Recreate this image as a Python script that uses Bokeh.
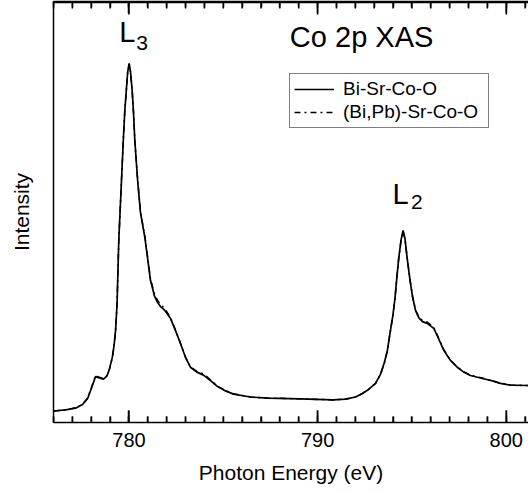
from bokeh.plotting import figure
from bokeh.models import (LinearAxis, SingleIntervalTicker, Range1d,
                          Legend, LegendItem, Label)
from bokeh.embed import file_html
from bokeh.resources import INLINE

# Co 2p X-ray absorption spectra (intensity normalised to the L3 maximum)
energy = [776.00, 776.64, 777.17, 777.54, 777.81, 778.02, 778.23, 778.39, 778.65, 778.84,
          778.97, 779.12, 779.21, 779.29, 779.37, 779.46, 779.58, 779.70, 779.78, 779.86,
          779.93, 780.01, 780.08, 780.17, 780.24, 780.31, 780.46, 780.61, 780.85, 781.14,
          781.36, 781.52, 781.67, 781.83, 781.99, 782.20, 782.47, 782.73, 783.00, 783.26,
          783.58, 783.95, 784.32, 784.70, 785.12, 785.54, 786.44, 787.35, 789.09, 790.84,
          791.48, 792.01, 792.38, 792.70, 793.07, 793.33, 793.54, 793.70, 793.86, 793.99,
          794.10, 794.21, 794.30, 794.42, 794.53, 794.63, 794.75, 794.90, 795.03, 795.19,
          795.36, 795.56, 795.81, 796.16, 796.41, 796.69, 797.04, 797.40, 797.73, 798.10,
          798.79, 799.27, 799.69, 800.22, 801.18]

bi_sr_co_o = [0.032, 0.035, 0.040, 0.050, 0.067, 0.097, 0.128, 0.125, 0.121, 0.130,
              0.150, 0.182, 0.214, 0.256, 0.331, 0.507, 0.646, 0.786, 0.869, 0.925,
              0.975, 1.000, 0.978, 0.925, 0.864, 0.786, 0.674, 0.585, 0.513, 0.396,
              0.351, 0.334, 0.323, 0.316, 0.306, 0.290, 0.256, 0.220, 0.181, 0.154,
              0.141, 0.132, 0.117, 0.100, 0.088, 0.079, 0.071, 0.068, 0.066, 0.063,
              0.065, 0.071, 0.081, 0.092, 0.109, 0.134, 0.167, 0.201, 0.256, 0.298,
              0.345, 0.409, 0.457, 0.507, 0.535, 0.513, 0.457, 0.396, 0.351, 0.312,
              0.292, 0.281, 0.276, 0.262, 0.234, 0.201, 0.173, 0.154, 0.141, 0.131,
              0.122, 0.116, 0.109, 0.104, 0.103]

bipb_sr_co_o = [0.032, 0.035, 0.041, 0.051, 0.068, 0.099, 0.131, 0.127, 0.122, 0.131,
                0.150, 0.181, 0.213, 0.255, 0.330, 0.505, 0.645, 0.785, 0.868, 0.924,
                0.974, 0.998, 0.977, 0.924, 0.864, 0.787, 0.676, 0.588, 0.517, 0.401,
                0.356, 0.340, 0.329, 0.321, 0.310, 0.292, 0.257, 0.221, 0.182, 0.155,
                0.143, 0.135, 0.119, 0.101, 0.089, 0.080, 0.071, 0.068, 0.066, 0.063,
                0.065, 0.071, 0.081, 0.092, 0.109, 0.133, 0.166, 0.200, 0.255, 0.297,
                0.344, 0.408, 0.456, 0.506, 0.533, 0.512, 0.457, 0.397, 0.353, 0.314,
                0.295, 0.284, 0.280, 0.265, 0.236, 0.203, 0.174, 0.155, 0.142, 0.132,
                0.123, 0.116, 0.109, 0.104, 0.103]

series_names = ["Bi-Sr-Co-O", "(Bi,Pb)-Sr-Co-O"]
major_ticks = [780, 790, 800]
minor_ticks = [776, 777, 778, 779, 781, 782, 783, 784, 785, 786, 787, 788, 789,
               791, 792, 793, 794, 795, 796, 797, 798, 799, 801]

FONT = "Liberation Sans"
X_START, X_END = 776.0, 801.18
Y_START, Y_END = 0.0, 1.1727
TOP_EDGE = 1.1700                       # upper border of the panel
MAJOR_LEN, MINOR_LEN = 0.0334, 0.0167   # inward tick lengths (12 px / 6 px)
GAP = float("nan")

p = figure(width=528, height=493, output_backend="svg", toolbar_location=None,
           x_range=Range1d(X_START, X_END), y_range=Range1d(Y_START, Y_END),
           min_border_left=53, min_border_right=0, min_border_top=1, min_border_bottom=71)
p.outline_line_color = None
p.grid.visible = False


def style_energy_axis(ax):
    ax.ticker = SingleIntervalTicker(interval=10, num_minor_ticks=10)
    ax.axis_line_color = "black"
    ax.axis_line_width = 1.5
    ax.major_tick_in = 12
    ax.major_tick_out = 0
    ax.minor_tick_in = 6
    ax.minor_tick_out = 0
    ax.major_tick_line_color = "black"
    ax.minor_tick_line_color = "black"
    ax.major_tick_line_width = 1.5
    ax.minor_tick_line_width = 1.5


# bottom axis: inward ticks, labels and title
xax = p.xaxis[0]
style_energy_axis(xax)
xax.major_label_text_font = FONT
xax.major_label_text_font_size = "20px"
xax.major_label_text_color = "black"
xax.major_label_standoff = 10
xax.axis_label = "Photon Energy (eV)"
xax.axis_label_text_font = FONT
xax.axis_label_text_font_size = "21px"
xax.axis_label_text_font_style = "normal"
xax.axis_label_text_color = "black"
xax.axis_label_standoff = 11

# top axis: inward ticks only
top = LinearAxis()
style_energy_axis(top)
top.major_label_text_font_size = "1px"
top.major_label_text_color = None
top.major_label_standoff = 0
p.add_layout(top, "above")

# left axis: plain line with title
yax = p.yaxis[0]
yax.axis_line_color = "black"
yax.axis_line_width = 1.5
yax.major_tick_in = 0
yax.major_tick_out = 0
yax.minor_tick_in = 0
yax.minor_tick_out = 0
yax.major_label_text_font_size = "1px"
yax.major_label_text_color = None
yax.major_label_standoff = 0
yax.axis_label = "Intensity"
yax.axis_label_text_font = FONT
yax.axis_label_text_font_size = "21px"
yax.axis_label_text_font_style = "normal"
yax.axis_label_text_color = "black"
yax.axis_label_standoff = 21

# frame decoration as one broken polyline: top border plus inward ticks on both edges
deco_x = [X_START, X_END, GAP]
deco_y = [TOP_EDGE, TOP_EDGE, GAP]
for ticks, length in ((major_ticks, MAJOR_LEN), (minor_ticks, MINOR_LEN)):
    for t in ticks:
        deco_x += [t, t, GAP, t, t, GAP]
        deco_y += [Y_START, Y_START + length, GAP, TOP_EDGE, TOP_EDGE - length, GAP]
p.line(deco_x, deco_y, line_color="black", line_width=1.5)

r1 = p.line(energy, bi_sr_co_o, line_color="black", line_width=1.7)
r2 = p.line(energy, bipb_sr_co_o, line_color="black", line_width=1.5, line_dash="6 4 2 4")

legend = Legend(items=[LegendItem(label=series_names[0], renderers=[r1]),
                       LegendItem(label=series_names[1], renderers=[r2])],
                location=(236, 294))
legend.border_line_color = "black"
legend.border_line_width = 1
legend.background_fill_color = "white"
legend.background_fill_alpha = 1.0
legend.label_text_font = FONT
legend.label_text_font_size = "19px"
legend.label_text_color = "black"
legend.glyph_width = 40
legend.glyph_height = 20
legend.label_height = 20
legend.label_width = 141
legend.label_standoff = 9
legend.padding = 4
legend.spacing = 1
legend.margin = 0
p.add_layout(legend)

# Edge labels and panel title
annotations = [
    ("L", 779.48, 1.0872, "29px"),
    ("3", 780.39, 1.0576, "21px"),
    ("L", 793.97, 0.6360, "29px"),
    ("2", 794.95, 0.6129, "21px"),
    ("Co 2p XAS", 788.53, 1.0743, "29px"),
]
for text, x, y, size in annotations:
    p.add_layout(Label(x=x, y=y, text=text, text_font=FONT, text_font_size=size,
                       text_baseline="alphabetic", text_align="left", text_color="black"))

open("out.html", "w").write(file_html(p, INLINE))
